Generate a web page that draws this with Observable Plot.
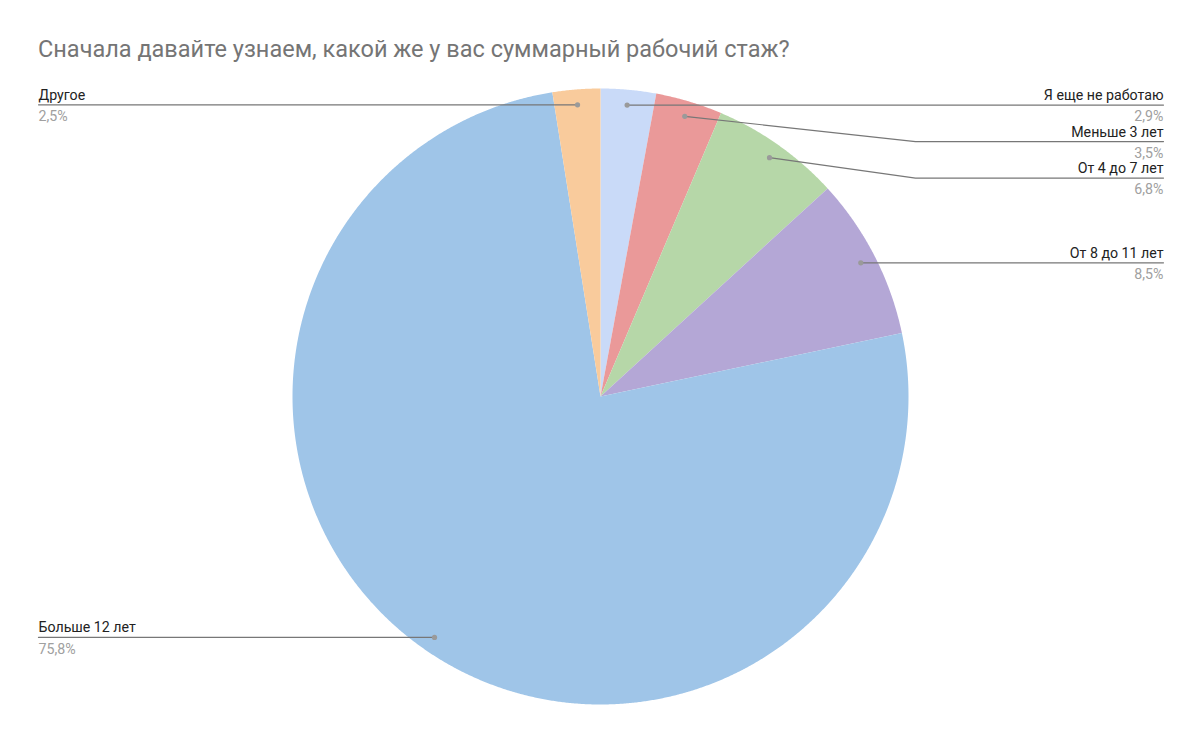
<!DOCTYPE html>
<html>
<head>
<meta charset="utf-8">
<script src="https://cdn.jsdelivr.net/npm/d3@7"></script>
<script src="https://cdn.jsdelivr.net/npm/@observablehq/plot@0.6"></script>
<style>
  html, body { margin: 0; padding: 0; background: #ffffff; }
  #wrap { width: 1200px; height: 742px; position: relative; overflow: hidden; }
  #title { position: absolute; left: 38px; top: 34px; font-family: Roboto, "Open Sans", sans-serif; font-size: 23.5px; color: #757575; white-space: nowrap; line-height: 30px; }
  #chart { position: absolute; left: 0; top: 80px; }
</style>
</head>
<body>
<div id="wrap">
  <div id="title">Сначала давайте узнаем, какой же у вас суммарный рабочий стаж?</div>
  <div id="chart"></div>
</div>
<script>
// ---- data ----
const labels = ["Я еще не работаю", "Меньше 3 лет", "От 4 до 7 лет", "От 8 до 11 лет", "Больше 12 лет", "Другое"];
const values = [2.9, 3.5, 6.8, 8.5, 75.8, 2.5];
const colors = ["#c9daf8", "#ea9999", "#b6d7a8", "#b4a7d6", "#9fc5e8", "#f9cb9c"];

// ---- layout ----
const W = 1200, H = 662;
const cx = 600, cy = 316, R = 308;
const dotR = 0.95 * R;
const rightX = 1163, leftX = 38;
const elbowOff = 7;
const gap = 36.5;
const fontFamily = "Roboto, 'Open Sans', sans-serif";

const total = d3.sum(values);
let acc = 0;
const slices = labels.map((label, i) => {
  const a0 = acc / total * 2 * Math.PI;
  acc += values[i];
  const a1 = acc / total * 2 * Math.PI;
  return {label, value: values[i], color: colors[i], a0, a1, mid: (a0 + a1) / 2};
});

// slice polygons
const slicePts = [];
for (const s of slices) {
  slicePts.push({label: s.label, x: cx, y: cy});
  const n = Math.max(2, Math.ceil((s.a1 - s.a0) / (Math.PI / 720)));
  for (let k = 0; k <= n; k++) {
    const a = s.a0 + (s.a1 - s.a0) * k / n;
    slicePts.push({label: s.label, x: cx + R * Math.sin(a), y: cy - R * Math.cos(a)});
  }
  slicePts.push({label: s.label, x: cx, y: cy});
}

// label placement
const anns = slices.map(s => ({
  ...s,
  dx: cx + dotR * Math.sin(s.mid),
  dy: cy - dotR * Math.cos(s.mid),
  right: s.mid < Math.PI
}));
for (const side of [true, false]) {
  const grp = anns.filter(a => a.right === side).sort((a, b) => a.dy - b.dy);
  let prev = -Infinity;
  for (const a of grp) {
    a.ly = Math.max(a.dy, prev + gap);
    prev = a.ly;
  }
}
const leaderPts = [];
for (const a of anns) {
  const endX = a.right ? rightX : leftX;
  const elbowX = a.right ? cx + R + elbowOff : cx - R - elbowOff;
  leaderPts.push({label: a.label, x: a.dx, y: a.dy});
  if (Math.abs(a.ly - a.dy) > 0.5) leaderPts.push({label: a.label, x: elbowX, y: a.ly});
  leaderPts.push({label: a.label, x: endX, y: a.ly});
  a.tx = endX;
}
const fmt = v => v.toFixed(1).replace(".", ",") + "%";
const rightAnns = anns.filter(a => a.right);
const leftAnns = anns.filter(a => !a.right);

const textMarks = [];
for (const [data, anchor] of [[rightAnns, "end"], [leftAnns, "start"]]) {
  textMarks.push(Plot.text(data, {x: "tx", y: "ly", text: "label", textAnchor: anchor,
    lineAnchor: "bottom", dy: -5, fill: "#222222", fontSize: 14.2}));
  textMarks.push(Plot.text(data, {x: "tx", y: "ly", text: d => fmt(d.value), textAnchor: anchor,
    lineAnchor: "top", dy: 6, fill: "#a0a0a0", fontSize: 14.2}));
}

const chart = Plot.plot({
  width: W,
  height: H,
  margin: 0,
  x: {domain: [0, W], range: [0, W], axis: null},
  y: {domain: [0, H], range: [0, H], axis: null},
  color: {domain: labels, range: colors},
  style: {fontFamily, background: "transparent"},
  marks: [
    Plot.line(slicePts, {x: "x", y: "y", z: "label", fill: "label", stroke: null, curve: "linear"}),
    Plot.line(leaderPts, {x: "x", y: "y", z: "label", stroke: "#777777", strokeWidth: 1.2}),
    Plot.dot(anns, {x: "dx", y: "dy", r: 2.6, fill: "#9a9a9a", stroke: null}),
    ...textMarks
  ]
});
document.getElementById("chart").appendChild(chart);
</script>
</body>
</html>
